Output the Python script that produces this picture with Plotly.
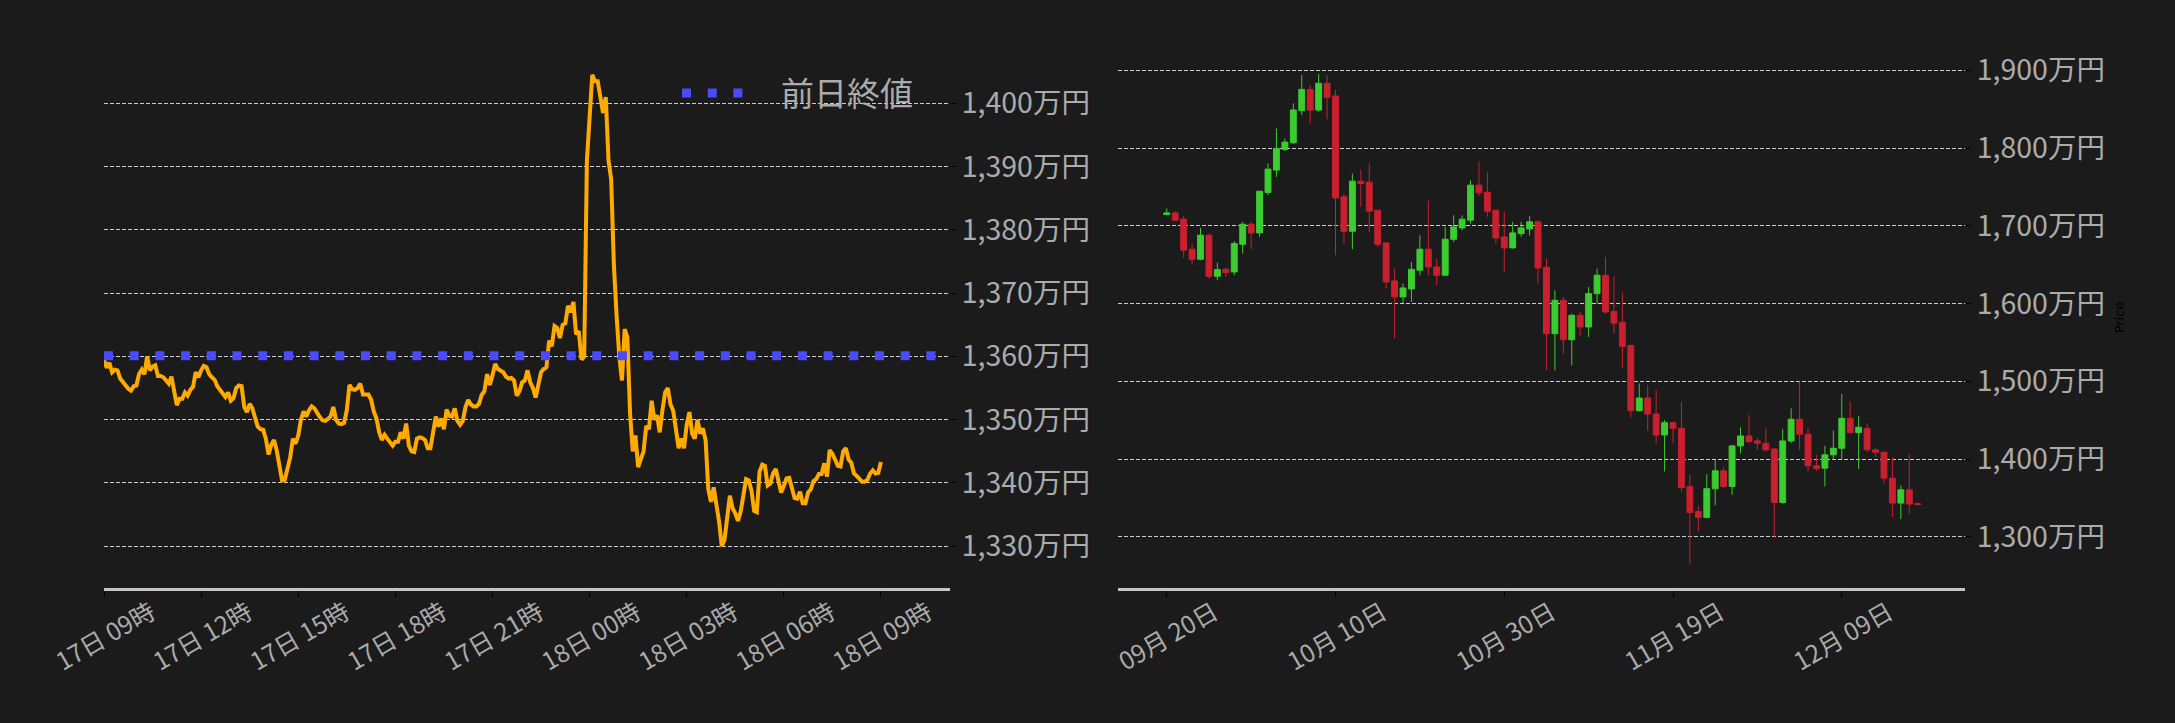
import pandas as pd
import plotly.graph_objects as go

# ---------------- data ----------------
# Left: intraday price every 5 minutes (unit: 万円)
intraday_start = "2025-12-17 09:00"
intraday_price = [
    1359.5, 1358.2, 1359.0, 1357.5, 1357.9, 1357.8, 1356.5, 1355.9, 1355.4, 1354.9,
    1354.6, 1355.3, 1355.4, 1357.2, 1357.9, 1357.2, 1360.0, 1357.8, 1358.4, 1358.6,
    1356.9, 1356.9, 1356.7, 1356.1, 1355.7, 1356.8, 1354.5, 1352.3, 1353.3, 1353.3,
    1354.3, 1353.8, 1354.7, 1355.2, 1357.5, 1356.7, 1357.8, 1358.5, 1358.3, 1357.2,
    1356.7, 1356.3, 1355.3, 1354.7, 1354.0, 1353.6, 1354.3, 1353.0, 1353.4, 1355.0,
    1355.4, 1355.3, 1352.0, 1351.2, 1352.5, 1351.8, 1350.3, 1348.9, 1348.5, 1348.4,
    1347.0, 1344.5, 1346.0, 1346.8, 1345.2, 1343.0, 1340.4, 1340.5, 1342.0, 1344.0,
    1347.0, 1346.2, 1347.5,
    1350.0, 1351.3, 1350.5, 1351.5, 1352.1, 1351.8, 1351.0, 1350.4, 1349.9, 1349.8,
    1350.1, 1350.5, 1352.0, 1350.0, 1349.4, 1349.3, 1349.5, 1351.5, 1355.5, 1354.8,
    1354.7, 1355.0, 1355.7, 1354.0, 1354.0, 1354.0, 1353.2, 1351.3, 1350.2, 1348.0,
    1346.8, 1347.6, 1347.0, 1346.3, 1345.9, 1346.5, 1346.5, 1348.0, 1347.0, 1349.4,
    1345.9, 1345.0, 1344.9, 1347.0, 1347.2, 1347.1, 1346.8, 1345.5, 1345.5, 1348.0,
    1350.5, 1348.9, 1350.2, 1348.5, 1351.6, 1350.6, 1350.5, 1351.8, 1349.8, 1349.2,
    1349.8, 1352.0, 1353.1, 1352.4, 1352.1, 1352.1, 1352.5, 1353.9, 1354.5, 1357.2,
    1355.5,
    1357.0, 1358.8, 1358.0, 1357.8, 1357.5, 1356.8, 1356.5, 1356.6, 1356.2, 1353.8,
    1354.5, 1355.9, 1356.2, 1357.8, 1355.9, 1355.0, 1353.5, 1355.5, 1357.5, 1358.0,
    1358.3, 1362.5, 1361.6, 1364.8, 1364.5, 1362.9, 1365.0, 1365.2, 1368.0, 1367.0,
    1368.6, 1363.5, 1364.0, 1359.5, 1360.0, 1391.0, 1397.0, 1404.5, 1403.5, 1403.5,
    1401.0, 1398.5, 1401.0, 1391.0, 1388.0, 1374.5, 1366.5, 1360.0, 1356.2, 1364.3,
    1363.0, 1351.0, 1345.0, 1347.5, 1342.5, 1344.0, 1345.0, 1349.0, 1348.5, 1353.0,
    1350.0, 1350.7, 1348.0, 1351.5, 1354.3, 1355.0, 1352.4, 1351.4, 1348.0, 1345.5,
    1347.0, 1345.5, 1349.2, 1351.2, 1347.8, 1347.0, 1350.0, 1347.8, 1348.6, 1346.8,
    1339.0, 1337.0, 1339.3, 1337.0, 1333.9, 1330.0, 1331.0, 1334.5, 1338.0, 1336.0,
    1335.2, 1334.0, 1335.5, 1338.0, 1340.6, 1340.4, 1338.8, 1335.6, 1335.4, 1341.8,
    1342.9, 1342.7, 1339.6, 1339.9, 1341.5, 1342.2, 1340.6, 1338.5, 1339.5, 1340.7,
    1340.8, 1339.1, 1337.6, 1337.5, 1338.6, 1336.8, 1336.8, 1338.5, 1339.0, 1340.3,
    1340.6, 1341.4, 1341.4, 1343.1, 1341.0, 1345.2, 1344.6, 1343.7, 1342.7, 1342.6,
    1345.0, 1345.5, 1343.7, 1343.2, 1341.5, 1341.1, 1340.7, 1340.2, 1340.2, 1340.5,
    1341.5, 1342.0, 1341.5, 1341.6, 1343.3,
]
prev_close = 1360.1
prev_close_label = "前日終値"
intraday_xrange = ["2025-12-17 09:00", "2025-12-18 11:08"]
intraday_yrange = [1323.4, 1408.9]

# Right: daily candles (unit: 万円)
daily_start = "2025-09-20"
daily_open = [
    1714.5, 1716.7, 1708.6, 1670.0, 1657.1, 1688.0, 1635.2, 1644.2, 1640.8, 1676.4,
    1702.1, 1691.0, 1743.0, 1771.7, 1798.3, 1806.9, 1848.1, 1875.5, 1848.9, 1883.3,
    1867.0, 1737.3, 1693.1, 1757.5, 1756.2, 1720.2, 1678.1, 1629.2, 1608.6, 1618.9,
    1643.0, 1670.0, 1647.2, 1636.5, 1682.8, 1697.4, 1707.3, 1752.4, 1743.3, 1720.2,
    1685.8, 1671.7, 1690.0, 1696.1, 1705.2, 1646.8, 1561.4, 1604.3, 1553.6, 1585.0,
    1570.0, 1612.9, 1636.5, 1590.0, 1576.0, 1546.3, 1462.4, 1478.6, 1458.1, 1431.2,
    1447.0, 1439.7, 1365.0, 1332.9, 1325.2, 1362.0, 1385.0, 1365.0, 1417.1, 1429.9,
    1423.5, 1420.5, 1413.2, 1344.4, 1423.5, 1451.3, 1432.1, 1391.5, 1388.5, 1405.6,
    1414.1, 1452.6, 1434.2, 1439.7, 1412.0, 1409.0, 1375.6, 1343.6, 1360.7, 1342.7,
]
daily_high = [
    1722.3, 1718.9, 1712.4, 1677.3, 1697.4, 1690.1, 1652.8, 1646.0, 1680.3, 1705.2,
    1705.2, 1744.6, 1780.3, 1825.3, 1812.4, 1857.5, 1894.0, 1881.1, 1895.3, 1894.0,
    1874.7, 1741.6, 1767.4, 1772.5, 1780.3, 1720.2, 1678.1, 1645.0, 1625.8, 1653.6,
    1688.0, 1733.0, 1658.0, 1698.7, 1713.7, 1713.7, 1758.8, 1783.3, 1768.7, 1720.2,
    1718.0, 1705.2, 1705.2, 1712.4, 1707.3, 1658.0, 1617.2, 1608.6, 1587.1, 1589.3,
    1621.5, 1645.0, 1660.0, 1635.2, 1614.2, 1547.0, 1497.4, 1495.3, 1488.9, 1450.4,
    1448.3, 1473.9, 1380.0, 1339.3, 1380.8, 1399.1, 1390.6, 1418.4, 1441.0, 1456.8,
    1426.9, 1439.7, 1414.1, 1438.5, 1465.4, 1500.0, 1439.7, 1405.6, 1417.1, 1436.8,
    1483.8, 1473.9, 1455.6, 1446.2, 1414.1, 1409.8, 1402.6, 1366.2, 1406.4, 1344.4,
]
daily_low = [
    1713.7, 1707.0, 1659.2, 1650.2, 1655.8, 1632.2, 1630.0, 1634.3, 1636.5, 1664.4,
    1670.0, 1685.8, 1739.5, 1763.0, 1796.0, 1805.2, 1842.5, 1831.8, 1846.8, 1837.3,
    1662.2, 1677.3, 1670.0, 1724.5, 1692.3, 1673.0, 1619.3, 1555.0, 1600.9, 1602.0,
    1636.5, 1636.5, 1623.6, 1636.5, 1679.4, 1694.4, 1703.0, 1738.2, 1711.6, 1677.3,
    1640.8, 1670.8, 1685.8, 1688.0, 1625.8, 1514.2, 1514.2, 1535.6, 1520.6, 1559.2,
    1557.1, 1600.0, 1587.0, 1561.4, 1518.0, 1453.8, 1461.1, 1436.8, 1419.7, 1384.2,
    1420.5, 1358.5, 1265.4, 1307.3, 1325.2, 1340.6, 1362.8, 1354.3, 1407.7, 1420.5,
    1412.0, 1409.8, 1300.0, 1342.7, 1420.5, 1412.0, 1384.2, 1385.0, 1365.0, 1399.1,
    1400.0, 1433.3, 1387.2, 1409.8, 1402.6, 1368.4, 1325.6, 1323.0, 1329.9, 1340.6,
]
daily_close = [
    1716.7, 1707.3, 1668.7, 1657.1, 1688.0, 1635.2, 1643.8, 1639.9, 1677.3, 1702.1,
    1691.0, 1744.6, 1773.0, 1799.6, 1807.7, 1849.0, 1875.5, 1848.9, 1883.3, 1865.2,
    1736.0, 1693.1, 1757.5, 1754.5, 1718.9, 1676.4, 1627.9, 1608.6, 1620.2, 1644.2,
    1670.0, 1647.2, 1636.5, 1682.8, 1698.7, 1708.6, 1752.4, 1742.5, 1718.9, 1684.5,
    1671.7, 1691.0, 1697.4, 1705.2, 1645.9, 1561.4, 1604.3, 1553.6, 1585.0, 1570.0,
    1612.9, 1636.5, 1589.3, 1575.0, 1545.1, 1462.4, 1478.6, 1458.1, 1431.2, 1447.0,
    1439.7, 1363.7, 1331.6, 1325.2, 1362.0, 1385.0, 1365.0, 1417.1, 1429.9, 1422.6,
    1420.5, 1412.0, 1344.4, 1423.5, 1451.3, 1432.1, 1391.5, 1388.0, 1405.6, 1414.1,
    1452.6, 1434.2, 1441.0, 1412.0, 1409.0, 1375.6, 1343.6, 1360.7, 1342.3, 1341.9,
]
daily_xrange = ["2025-09-14 05:30", "2025-12-23 14:30"]
daily_yrange = [1234.4, 1930.0]

# ---------------- styling ----------------
BG = "#1b1b1b"
FONT = "Noto Sans CJK JP"
TICK_COLOR = "#ababab"
GRID = "#cfcfcf"
UP = "#3bcc2f"
DOWN = "#c8202e"

times = pd.date_range(intraday_start, periods=len(intraday_price), freq="5min")
dates = pd.date_range(daily_start, periods=len(daily_open), freq="D")

fig = go.Figure()
fig.add_trace(go.Scatter(
    x=times, y=intraday_price, mode="lines",
    line=dict(color="#ffaa00", width=4),
    showlegend=False, xaxis="x", yaxis="y", hoverinfo="skip",
))
fig.add_trace(go.Scatter(
    x=intraday_xrange, y=[prev_close, prev_close], mode="lines",
    line=dict(color="#4a4aff", width=9, dash="9px,16.7px"),
    name="\u2002\u2002" + prev_close_label, showlegend=True,
    xaxis="x", yaxis="y", hoverinfo="skip",
))
fig.add_trace(go.Candlestick(
    x=dates, open=daily_open, high=daily_high, low=daily_low, close=daily_close,
    increasing=dict(line=dict(color=UP, width=1), fillcolor=UP),
    decreasing=dict(line=dict(color=DOWN, width=1), fillcolor=DOWN),
    whiskerwidth=0, showlegend=False, xaxis="x2", yaxis="y2",
))

tickfont_y = dict(family=FONT, size=28.5, color=TICK_COLOR)
tickfont_x = dict(family=FONT, size=24.5, color=TICK_COLOR)

common_x = dict(
    showgrid=False, zeroline=False, showline=True, linecolor="#c4c4c4", linewidth=3,
    ticks="outside", ticklen=6, tickcolor="#000000", tickwidth=1,
    tickangle=-30, tickfont=tickfont_x, ticklabelshift=47, ticklabelstandoff=-8,
)
common_y = dict(
    side="right", showgrid=True, gridcolor=GRID, gridwidth=1, griddash="4px,2px",
    zeroline=False, showline=False, ticks="outside", ticklen=5, tickcolor="#000000",
    tickfont=tickfont_y, ticksuffix="万円", tickformat=",d",
)

fig.update_layout(
    width=2175, height=723,
    paper_bgcolor=BG, plot_bgcolor=BG,
    margin=dict(l=104, r=210, t=47, b=135),
    font=dict(family=FONT, color=TICK_COLOR),
    boxgap=0.25, boxgroupgap=0.07,
    xaxis=dict(domain=[0, 0.4546], anchor="y", type="date",
               range=intraday_xrange, tick0="2025-12-17 09:00",
               dtick=3 * 3600 * 1000, tickformat="%d日 %H時", **common_x),
    yaxis=dict(anchor="x", range=intraday_yrange, dtick=10, tick0=0, **common_y),
    xaxis2=dict(domain=[0.5449, 1.0], anchor="y2", type="date",
                range=daily_xrange, tick0=daily_start,
                dtick=20 * 86400 * 1000, tickformat="%m月 %d日",
                rangeslider=dict(visible=False), **common_x),
    yaxis2=dict(anchor="x2", range=daily_yrange, dtick=100, tick0=0,
                title=dict(text="Price", font=dict(family="DejaVu Sans", size=13, color="#000000"),
                           standoff=10),
                **common_y),
    legend=dict(
        x=(677 - 104) / 1861, xanchor="left", y=(588.3 - 93) / 541.3, yanchor="middle",
        bgcolor="rgba(0,0,0,0)", borderwidth=0, itemwidth=61,
        font=dict(family=FONT, size=33, color=TICK_COLOR),
    ),
    hovermode=False,
)

fig.write_html(
    "out.html",
    config={"displayModeBar": False},
    post_script="document.body.style.margin='0px';document.body.style.background='%s';" % BG,
)
